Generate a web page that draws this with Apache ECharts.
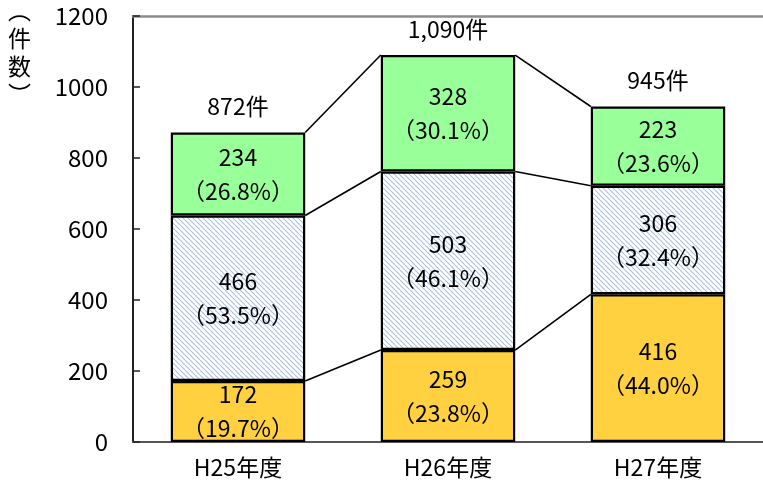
<!DOCTYPE html>
<html>
<head>
<meta charset="utf-8">
<script src="https://cdn.jsdelivr.net/npm/echarts@6/dist/echarts.min.js"></script>
<style>
  html, body { margin: 0; padding: 0; background: #fff; }
  #chart { width: 763px; height: 493px; }
</style>
</head>
<body>
<div id="chart"></div>
<script>
// Yearly case counts, split into three groups (bottom to top of each stack)
const categories = ['H25年度', 'H26年度', 'H27年度'];
const bottomValues = [172, 259, 416];
const middleValues = [466, 503, 306];
const topValues = [234, 328, 223];
const bottomPct = ['19.7%', '23.8%', '44.0%'];
const middlePct = ['53.5%', '46.1%', '32.4%'];
const topPct = ['26.8%', '30.1%', '23.6%'];
const yTicks = [0, 200, 400, 600, 800, 1000, 1200];

const totals = categories.map((_, i) => bottomValues[i] + middleValues[i] + topValues[i]);
const levels = [
  bottomValues,
  bottomValues.map((v, i) => v + middleValues[i]),
  totals
];

// narrow Latin digits, Japanese glyphs fall back to Noto CJK
const FONT = '"Liberation Sans Narrow", "Noto Sans CJK JP", sans-serif';
const FS = 23;
const BAR_RATIO = 0.64;

// Diagonal hatch fill for the middle segment
function hatchPattern() {
  const n = 5;
  const c = document.createElement('canvas');
  c.width = n; c.height = n;
  const ctx = c.getContext('2d');
  ctx.fillStyle = '#ffffff';
  ctx.fillRect(0, 0, n, n);
  ctx.strokeStyle = '#a9bde0';
  ctx.lineWidth = 1.1;
  for (const k of [-n, 0, n]) {
    ctx.beginPath();
    ctx.moveTo(k, 0);
    ctx.lineTo(k + n, n);
    ctx.stroke();
  }
  return { image: c, repeat: 'repeat' };
}

function segLabel(pcts) {
  return {
    show: true,
    position: 'inside',
    color: '#000',
    fontFamily: FONT,
    fontSize: FS,
    lineHeight: 34,
    formatter: p => p.value + '\n（' + pcts[p.dataIndex] + '）'
  };
}

const barStyle = fill => ({ color: fill, borderColor: '#000', borderWidth: 2.2 });

const chart = echarts.init(document.getElementById('chart'));
chart.setOption({
  animation: false,
  backgroundColor: '#fff',
  textStyle: { fontFamily: FONT },
  grid: { left: 133, right: 0, top: 16, bottom: 51 },
  xAxis: [{
    type: 'category',
    data: categories,
    axisLine: { lineStyle: { color: '#555', width: 2 } },
    axisTick: { show: false },
    axisLabel: { color: '#000', fontSize: FS, margin: 14, fontFamily: FONT }
  }, {
    type: 'category',
    position: 'top',
    data: categories,
    axisLine: { lineStyle: { color: '#8c8c8c', width: 2.5 } },
    axisTick: { show: false },
    axisLabel: { show: false }
  }],
  yAxis: {
    type: 'value',
    min: yTicks[0],
    max: yTicks[yTicks.length - 1],
    interval: 200,
    axisLine: { show: true, lineStyle: { color: '#222', width: 2 } },
    axisTick: { show: true, inside: true, length: 7, lineStyle: { color: '#222', width: 1.5 } },
    splitLine: { show: false },
    axisLabel: {
      color: '#000', fontSize: 24, margin: 25, fontFamily: FONT,
      formatter: v => String(v)
    }
  },
  graphic: [{
    type: 'text',
    left: 8,
    top: -4,
    style: {
      text: '︵\n件\n数\n︶',
      fontSize: 23,
      lineHeight: 28,
      fill: '#000',
      fontFamily: '"Noto Sans CJK JP", sans-serif',
      align: 'center'
    }
  }],
  series: [
    {
      type: 'bar', stack: 'total', barWidth: (BAR_RATIO * 100) + '%',
      data: bottomValues, itemStyle: barStyle('#ffd040'), label: segLabel(bottomPct)
    },
    {
      type: 'bar', stack: 'total',
      data: middleValues, itemStyle: barStyle(hatchPattern()), label: segLabel(middlePct)
    },
    {
      type: 'bar', stack: 'total',
      data: topValues, itemStyle: barStyle('#99ff99'), label: segLabel(topPct)
    },
    {
      // connector lines between the stack boundaries of neighbouring bars
      type: 'custom',
      clip: false,
      z: 5,
      data: categories.slice(0, -1).map((_, i) => [i, 0]),
      renderItem: (params, api) => {
        const i = params.dataIndex;
        const half = api.size([1, 0])[0] * BAR_RATIO / 2;
        return {
          type: 'group',
          children: levels.map(arr => {
            const a = api.coord([i, arr[i]]);
            const b = api.coord([i + 1, arr[i + 1]]);
            return {
              type: 'line',
              shape: { x1: a[0] + half, y1: a[1], x2: b[0] - half, y2: b[1] },
              style: { stroke: '#000', lineWidth: 1.6 }
            };
          })
        };
      }
    },
    {
      // total count above each stack
      type: 'custom',
      clip: false,
      z: 6,
      data: totals.map((t, i) => [i, t]),
      renderItem: (params, api) => {
        const p = api.coord([api.value(0), api.value(1)]);
        return {
          type: 'text',
          x: p[0],
          y: p[1] - 26,
          style: {
            text: api.value(1).toLocaleString('en-US') + '件',
            fontSize: FS,
            fill: '#000',
            fontFamily: FONT,
            align: 'center',
            verticalAlign: 'middle'
          }
        };
      }
    }
  ]
});
</script>
</body>
</html>
